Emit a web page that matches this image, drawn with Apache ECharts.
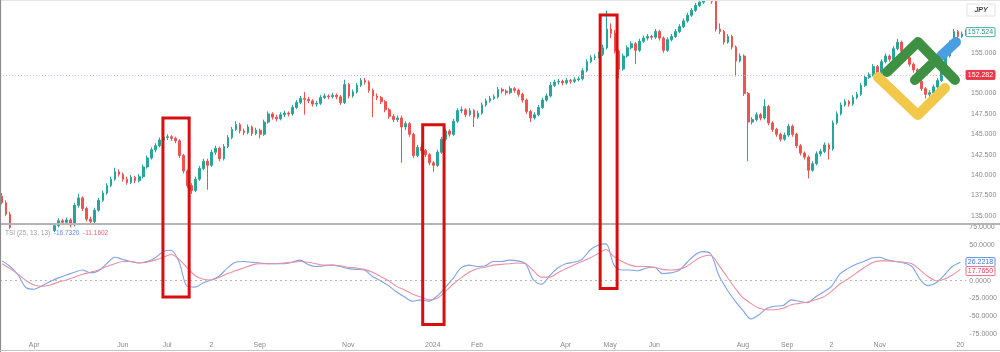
<!DOCTYPE html>
<html><head><meta charset="utf-8">
<script src="https://cdn.jsdelivr.net/npm/echarts@6/dist/echarts.min.js"></script>
<style>html,body{margin:0;padding:0;background:#fff}#c{width:1000px;height:352px}</style>
</head><body><div id="c"></div>
<script>
// ---- price candles (2 trading days per candle) ----
const opens = [
137.4,136.6,135.2,133.6,133.0,132.4,131.8,131.5,132.2,132.9,
132.6,133.1,133.6,133.2,133.8,134.4,134.2,134.5,133.9,136.3,
137.2,135.9,134.6,134.3,135.7,136.9,137.8,138.7,139.5,140.4,
140.1,139.5,139.1,139.7,139.3,139.8,141.0,142.1,143.1,143.6,
144.3,144.6,144.7,144.5,144.2,142.4,140.5,138.7,138.1,139.5,
140.8,141.7,141.2,142.8,143.3,142.0,143.5,144.6,145.6,146.2,
145.4,145.2,145.9,145.1,145.5,145.0,146.5,147.5,147.1,146.9,
147.4,147.6,147.5,148.3,148.9,149.4,149.3,149.1,148.7,148.8,
149.5,149.7,149.6,149.8,149.6,148.9,151.1,149.7,150.2,151.0,
151.6,151.4,150.4,149.7,149.5,149.0,148.0,147.2,146.8,147.0,
145.9,146.3,145.0,142.4,143.4,143.0,142.5,141.5,141.2,142.8,
144.4,145.4,145.0,146.6,147.9,148.0,147.4,147.9,147.1,147.6,
148.6,149.1,149.4,149.6,150.5,150.3,150.1,150.6,150.4,149.9,
149.2,147.8,147.0,147.4,148.3,149.2,149.7,151.0,151.4,151.5,
151.3,151.6,151.5,151.7,151.8,152.8,153.9,154.4,154.5,154.8,
155.6,157.9,157.4,155.2,153.0,154.6,155.6,156.1,155.3,156.4,
156.8,157.0,156.9,157.6,156.8,155.3,156.6,157.0,157.6,158.2,
158.9,159.6,160.2,160.8,161.2,161.5,161.7,161.3,157.9,157.6,
156.3,157.0,155.7,154.0,154.6,150.0,146.5,146.8,147.4,147.0,
148.4,146.4,145.6,145.0,144.4,144.9,146.0,145.0,143.6,142.7,
142.2,140.6,141.4,142.6,142.9,143.7,143.2,146.4,147.5,148.6,
149.0,148.7,149.5,149.9,151.0,152.0,152.3,153.3,152.6,153.9,
154.6,154.2,155.5,156.3,155.2,154.4,153.6,152.9,151.5,150.6,
149.9,150.1,150.8,151.6,152.7,154.6,156.2,157.6,157.0,157.3];
const closes = [
136.6,135.2,133.6,133.0,132.4,131.8,131.5,132.2,132.9,132.6,
133.1,133.6,133.2,133.8,134.4,134.2,134.5,133.9,136.3,137.2,
135.9,134.6,134.3,135.7,136.9,137.8,138.7,139.5,140.4,140.1,
139.5,139.1,139.7,139.3,139.8,141.0,142.1,143.1,143.6,144.3,
144.6,144.7,144.5,144.2,142.4,140.5,138.7,138.1,139.5,140.8,
141.7,141.2,142.8,143.3,142.0,143.5,144.6,145.6,146.2,145.4,
145.2,145.9,145.1,145.5,145.0,146.5,147.5,147.1,146.9,147.4,
147.6,147.5,148.3,148.9,149.4,149.3,149.1,148.7,148.8,149.5,
149.7,149.6,149.8,149.6,148.9,151.1,149.7,150.2,151.0,151.6,
151.4,150.4,149.7,149.5,149.0,148.0,147.2,146.8,147.0,145.9,
146.3,145.0,142.4,143.4,143.0,142.5,141.5,141.2,142.8,144.4,
145.4,145.0,146.6,147.9,148.0,147.4,147.9,147.1,147.6,148.6,
149.1,149.4,149.6,150.5,150.3,150.1,150.6,150.4,149.9,149.2,
147.8,147.0,147.4,148.3,149.2,149.7,151.0,151.4,151.5,151.3,
151.6,151.5,151.7,151.8,152.8,153.9,154.4,154.5,154.8,155.6,
157.9,157.4,155.2,153.0,154.6,155.6,156.1,155.3,156.4,156.8,
157.0,156.9,157.6,156.8,155.3,156.6,157.0,157.6,158.2,158.9,
159.6,160.2,160.8,161.2,161.5,161.7,161.3,157.9,157.6,156.3,
157.0,155.7,154.0,154.6,150.0,146.5,146.8,147.4,147.0,148.4,
146.4,145.6,145.0,144.4,144.9,146.0,145.0,143.6,142.7,142.2,
140.6,141.4,142.6,142.9,143.7,143.2,146.4,147.5,148.6,149.0,
148.7,149.5,149.9,151.0,152.0,152.3,153.3,152.6,153.9,154.6,
154.2,155.5,156.3,155.2,154.4,153.6,152.9,151.5,150.6,149.9,
150.1,150.8,151.6,152.7,154.6,156.2,157.6,157.0,157.3,157.524];
const lows = [
136.4,135.0,133.4,132.7,132.1,131.5,131.2,131.3,132.0,132.3,
132.4,132.9,132.9,133.0,133.6,133.9,134.0,133.6,133.7,136.0,
135.6,134.3,134.0,134.1,135.5,136.7,137.6,138.5,139.3,139.8,
139.2,138.8,138.9,139.0,139.1,139.6,140.8,141.9,142.8,143.4,
144.1,144.3,144.2,143.9,142.1,140.2,138.4,137.7,137.9,139.3,
140.6,138.2,141.0,142.5,141.7,141.8,143.3,144.4,145.4,145.1,
144.9,145.0,144.8,144.9,144.5,144.8,146.3,146.8,146.6,146.7,
147.1,147.2,147.3,148.1,148.7,147.4,148.8,148.4,148.4,148.6,
149.3,149.3,149.4,149.3,148.6,148.7,149.4,149.5,150.0,150.8,
151.1,150.1,147.1,149.2,148.7,147.7,146.9,146.5,146.5,141.5,
145.5,144.7,142.1,142.2,142.7,142.2,141.2,140.4,141.0,142.6,
144.2,144.7,144.8,146.4,147.6,147.1,147.2,145.9,146.9,147.4,
148.4,148.9,149.2,149.4,150.0,149.8,149.9,150.1,149.6,148.9,
147.5,146.5,146.8,147.2,148.1,149.0,149.5,150.8,151.1,151.0,
151.1,151.2,151.3,151.5,151.6,152.6,153.7,154.1,154.3,154.6,
155.4,156.8,154.9,151.9,152.8,154.4,155.4,153.6,155.1,156.2,
156.5,156.6,156.7,156.5,155.0,155.1,156.4,156.8,157.4,158.0,
158.7,159.4,160.0,160.6,161.0,161.3,161.0,157.6,157.3,156.0,
156.1,155.4,152.1,153.8,149.7,141.7,146.2,146.6,146.7,146.8,
146.1,145.3,144.7,144.1,144.2,144.7,144.7,143.3,142.4,141.9,
139.6,140.4,141.2,142.3,142.7,141.9,143.0,146.2,147.3,148.4,
148.4,148.5,149.3,149.7,150.8,151.8,152.1,152.3,152.4,153.7,
153.9,154.0,155.3,154.9,154.1,153.3,152.6,151.2,150.3,149.4,
149.6,149.9,150.6,151.4,152.5,154.4,156.0,156.7,156.8,157.1];
const highs = [
137.8,136.9,135.5,133.9,133.3,132.7,132.1,132.5,133.2,133.1,
133.4,133.9,133.8,134.1,134.7,134.6,134.8,134.7,136.6,137.7,
137.4,136.1,134.9,136.0,137.2,138.1,139.0,139.8,140.9,140.7,
140.3,139.8,140.0,139.9,140.1,141.3,142.4,143.4,143.9,144.6,
144.9,145.0,144.9,144.7,144.4,142.6,140.7,139.0,139.8,141.1,
142.0,142.0,143.1,143.6,143.5,143.8,144.9,145.9,146.6,146.4,
145.7,146.2,146.1,145.8,145.7,146.8,147.8,147.7,147.4,147.7,
147.9,147.8,148.6,149.2,149.7,150.2,149.6,149.3,149.1,149.8,
150.0,149.9,150.1,150.0,149.8,151.7,151.3,150.5,151.3,151.9,
151.9,151.6,150.6,150.0,149.7,149.2,148.2,147.5,147.3,147.3,
146.6,146.5,145.2,143.7,143.9,143.2,142.7,141.7,143.1,144.7,
145.7,145.6,146.9,148.2,148.4,148.2,148.2,148.1,147.9,148.9,
149.4,149.7,149.9,150.8,150.7,150.5,150.9,150.8,150.6,150.1,
149.4,148.0,147.7,148.6,149.5,150.0,151.4,151.7,151.8,151.7,
151.9,151.8,152.0,152.1,153.1,154.2,154.7,154.8,155.1,156.0,
160.2,158.6,157.8,155.4,154.9,155.9,156.4,156.3,156.7,157.1,
157.3,157.2,157.9,157.8,157.0,156.9,157.3,157.9,158.5,159.2,
159.9,160.5,161.1,161.5,161.8,162.0,161.9,161.5,158.6,157.8,
157.3,157.2,155.9,154.9,154.8,150.2,147.1,147.7,147.6,149.3,
148.6,146.6,145.8,145.2,145.2,146.3,146.2,145.2,143.8,142.9,
142.4,141.7,142.9,143.2,144.0,143.9,146.7,147.8,148.9,149.3,
149.2,149.8,150.2,151.3,152.3,152.6,153.6,153.5,154.2,154.9,
154.8,155.8,156.7,156.5,155.4,154.6,153.8,153.1,151.7,150.8,
150.4,151.1,151.9,153.0,154.9,156.5,157.9,157.8,157.6,157.8];

// ---- TSI (25,13,13): one reading every 2 candles ----
const tsiStep = 2;
const tsiValues = [
28,20,8,-10,-12,-7,-1,4,8,12,15,11,14,24,33,30,27,25,27,32,
41,43,26,-8,-9,-3,1,7,18,26,27,26,25,24,24,24,26,29,23,20,
21,22,20,17,16,15,6,0,-7,-16,-23,-29,-27,-29,-22,-10,3,18,22,20,
21,27,27,29,28,24,1,-5,7,18,24,26,30,43,50,52,22,15,15,14,
18,19,10,11,14,25,36,41,38,8,-12,-28,-42,-54,-48,-39,-36,-35,-27,-29,
-31,-23,-16,-8,9,17,23,27,32,33,29,27,25,20,2,-7,-3,8,20,26];
const signalValues = [
24,17,9,0,-6,-8,-6,-2,1,5,9,12,15,20,24,27,27,25,26,29,
33,37,30,18,7,2,1,5,10,14,18,22,24,24,24,25,26,27,26,24,
22,22,21,19,18,16,12,6,0,-8,-13,-19,-23,-27,-25,-16,-5,4,12,17,
19,22,23,24,25,24,14,5,5,11,17,22,27,32,38,44,34,27,22,20,
20,19,16,15,16,20,28,34,36,22,6,-10,-24,-32,-39,-41,-41,-39,-34,-32,
-30,-27,-23,-15,-5,2,10,18,25,28,28,27,26,24,15,6,0,2,8,16];

// ---- axis ticks / labels / annotations ----
const tickIndex = [8,30,41,52,64,86,107,118,140,151,162,184,195,206,218,238];
const tickText = ['Apr','Jun','Jul','2','Sep','Nov','2024','Feb','Apr','May','Jun','Aug','Sep','2','Nov','20'];
const priceTicks = [135,137.5,140,142.5,145,147.5,150,155];
const tsiTicks = [75,50,0,-25,-50,-75];
const lastPrice = 157.524;
const levelPrice = 152.282;
const tsiLast = 26.2218;
const signalLast = 17.7650;
const legendTitle = 'TSI (25, 13, 13)';
const legendTsi = '-16.7320';
const legendSignal = '-11.1602';
const currency = 'JPY';
// red boxes: candle index range, top price, bottom TSI value
const boxFrom = [39.9, 104.3, 148.3];
const boxTo = [46.4, 109.6, 152.5];
const boxTopPrice = [147.0, 146.16, 159.63];
const boxBottomTsi = [-23.0, -61.8, -11.0];

const N = closes.length;
const cats = Array.from({length: N}, (_, i) => String(i));
const candleData = closes.map((c, i) => [opens[i], c, lows[i], highs[i]]);
const tsiData = tsiValues.map((v, j) => [j * tsiStep, v]);
const sigData = signalValues.map((v, j) => [j * tsiStep, v]);

const UP = '#26a69a', DOWN = '#ef5350';
const FONT = 'Liberation Sans, Arial, sans-serif';
const chart = echarts.init(document.getElementById('c'), null, {renderer: 'canvas'});

chart.setOption({
  animation: false,
  backgroundColor: '#fff',
  grid: [
    {left: 0, right: 32, top: 3, height: 221},
    {left: 0, right: 32, top: 224, height: 113.4}
  ],
  xAxis: [
    {type: 'category', gridIndex: 0, data: cats, boundaryGap: true,
     axisLine: {show: false}, axisTick: {show: false}, axisLabel: {show: false}, splitLine: {show: false}},
    {type: 'category', gridIndex: 1, data: cats, boundaryGap: true,
     axisLine: {show: false}, axisTick: {show: false}, splitLine: {show: false},
     axisLabel: {show: true, interval: (idx) => tickIndex.indexOf(idx) >= 0,
       formatter: (v, idx) => tickText[tickIndex.indexOf(Number(v))] || '',
       color: '#8a8a8a', fontSize: 7, fontFamily: FONT, margin: 4, hideOverlap: false}}
  ],
  yAxis: [
    {type: 'value', gridIndex: 0, position: 'right', min: 134, max: 161.1,
     axisLine: {show: false}, axisTick: {show: false}, splitLine: {show: false},
     axisLabel: {customValues: priceTicks, formatter: (v) => v.toFixed(3),
       color: '#8a8a8a', fontSize: 7, fontFamily: FONT, margin: 3}},
    {type: 'value', gridIndex: 1, position: 'right', min: -80, max: 80,
     axisLine: {show: false}, axisTick: {show: false}, splitLine: {show: false},
     axisLabel: {customValues: tsiTicks, formatter: (v) => v.toFixed(4),
       color: '#8a8a8a', fontSize: 7, fontFamily: FONT, margin: 3}}
  ],
  series: [
    {type: 'candlestick', xAxisIndex: 0, yAxisIndex: 0, data: candleData, barWidth: 2.2, clip: true,
     itemStyle: {color: UP, color0: DOWN, borderColor: UP, borderColor0: DOWN, borderWidth: 1},
     markLine: {silent: true, symbol: 'none', label: {show: false},
       lineStyle: {color: '#eeb3bd', type: [1, 2], width: 1},
       data: [{yAxis: levelPrice}]}},
    {type: 'line', xAxisIndex: 1, yAxisIndex: 1, data: tsiData, showSymbol: false, smooth: 0.3,
     lineStyle: {color: '#7ea3e8', width: 1.1},
     markLine: {silent: true, symbol: 'none', label: {show: false},
       lineStyle: {color: '#b8b8b8', type: [2, 3], width: 1},
       data: [{yAxis: 0}]}},
    {type: 'line', xAxisIndex: 1, yAxisIndex: 1, data: sigData, showSymbol: false, smooth: 0.3,
     lineStyle: {color: '#eb8fa2', width: 1.1}}
  ]
});

function px(idx) {
  const a = chart.convertToPixel({xAxisIndex: 0}, 0);
  const b = chart.convertToPixel({xAxisIndex: 0}, 1);
  return a + idx * (b - a);
}
const yP = (v) => chart.convertToPixel({yAxisIndex: 0}, v);
const yT = (v) => chart.convertToPixel({yAxisIndex: 1}, v);

const g = [];
// frame lines
g.push({type: 'line', shape: {x1: 0, y1: 224, x2: 1000, y2: 224}, style: {stroke: '#b4b4b4', lineWidth: 2}, z: 50});
g.push({type: 'line', shape: {x1: 0, y1: 0.5, x2: 1000, y2: 0.5}, style: {stroke: '#e4e4e4', lineWidth: 1}, z: 50});
g.push({type: 'line', shape: {x1: 0.5, y1: 0, x2: 0.5, y2: 352}, style: {stroke: '#8c8c8c', lineWidth: 1.2}, z: 50});
g.push({type: 'line', shape: {x1: 0, y1: 350.5, x2: 1000, y2: 350.5}, style: {stroke: '#c4c4c4', lineWidth: 1}, z: 50});
// red boxes
for (let k = 0; k < boxFrom.length; k++) {
  const x1 = px(boxFrom[k]), x2 = px(boxTo[k]);
  const y1 = yP(boxTopPrice[k]), y2 = yT(boxBottomTsi[k]);
  g.push({type: 'rect', shape: {x: x1, y: y1, width: x2 - x1, height: y2 - y1},
    style: {fill: 'none', stroke: '#d80f0f', lineWidth: 3}, z: 60});
}
// price tags
function tag(y, text, stroke, fill, color) {
  g.push({type: 'rect', shape: {x: 966, y: y - 4.5, width: 29, height: 9, r: 1},
    style: {fill: fill, stroke: stroke, lineWidth: 1}, z: 70});
  g.push({type: 'text', x: 980.5, y: y, style: {text: text, fill: color, fontSize: 7, fontFamily: FONT,
    align: 'center', verticalAlign: 'middle'}, z: 71});
}
tag(yP(lastPrice), lastPrice.toFixed(3), '#3fae9f', '#fff', '#2a9d8f');
tag(yP(levelPrice), levelPrice.toFixed(3), '#f0364a', '#f0364a', '#fff');
tag(yT(tsiLast), tsiLast.toFixed(4), '#5d8fe4', '#fff', '#3f74d6');
tag(yT(signalLast) + 3, signalLast.toFixed(4), '#ec6f86', '#fff', '#e0405c');
// currency box
g.push({type: 'rect', shape: {x: 967, y: 4, width: 28, height: 12}, style: {fill: '#fff', stroke: '#e2e2e2', lineWidth: 1}, z: 70});
g.push({type: 'text', x: 981, y: 10, style: {text: currency, fill: '#444', fontSize: 7, fontWeight: 'bold', fontStyle: 'italic', fontFamily: FONT, align: 'center', verticalAlign: 'middle'}, z: 71});
// TSI legend (one rich text so the parts never overlap)
g.push({type: 'text', x: 5, y: 233, z: 70, style: {
  text: '{a|' + legendTitle + '}  {b|' + legendTsi + '}  {c|' + legendSignal + '}',
  verticalAlign: 'middle', fontSize: 6.5, fontFamily: FONT,
  rich: {a: {fill: '#a0a0a0', fontSize: 6.5, fontFamily: FONT},
         b: {fill: '#5d8fe4', fontSize: 6.5, fontFamily: FONT},
         c: {fill: '#e6627a', fontSize: 6.5, fontFamily: FONT}}}});
// logo
const cap = {lineCap: 'round', lineJoin: 'round', fill: 'none', lineWidth: 10};
g.push({type: 'polyline', shape: {points: [[878, 77], [918, 115], [945, 88]]}, style: Object.assign({stroke: '#f2c84b'}, cap), z: 80});
g.push({type: 'polyline', shape: {points: [[941, 56], [956, 42]]}, style: Object.assign({stroke: '#4a9fe3'}, cap), z: 80});
g.push({type: 'polyline', shape: {points: [[887, 72], [918, 42], [955, 80]]}, style: Object.assign({stroke: '#3e9142'}, cap), z: 81});
g.push({type: 'polyline', shape: {points: [[915, 80], [936, 60]]}, style: Object.assign({stroke: '#3e9142'}, cap), z: 81});

chart.setOption({graphic: g});
</script>
</body></html>
